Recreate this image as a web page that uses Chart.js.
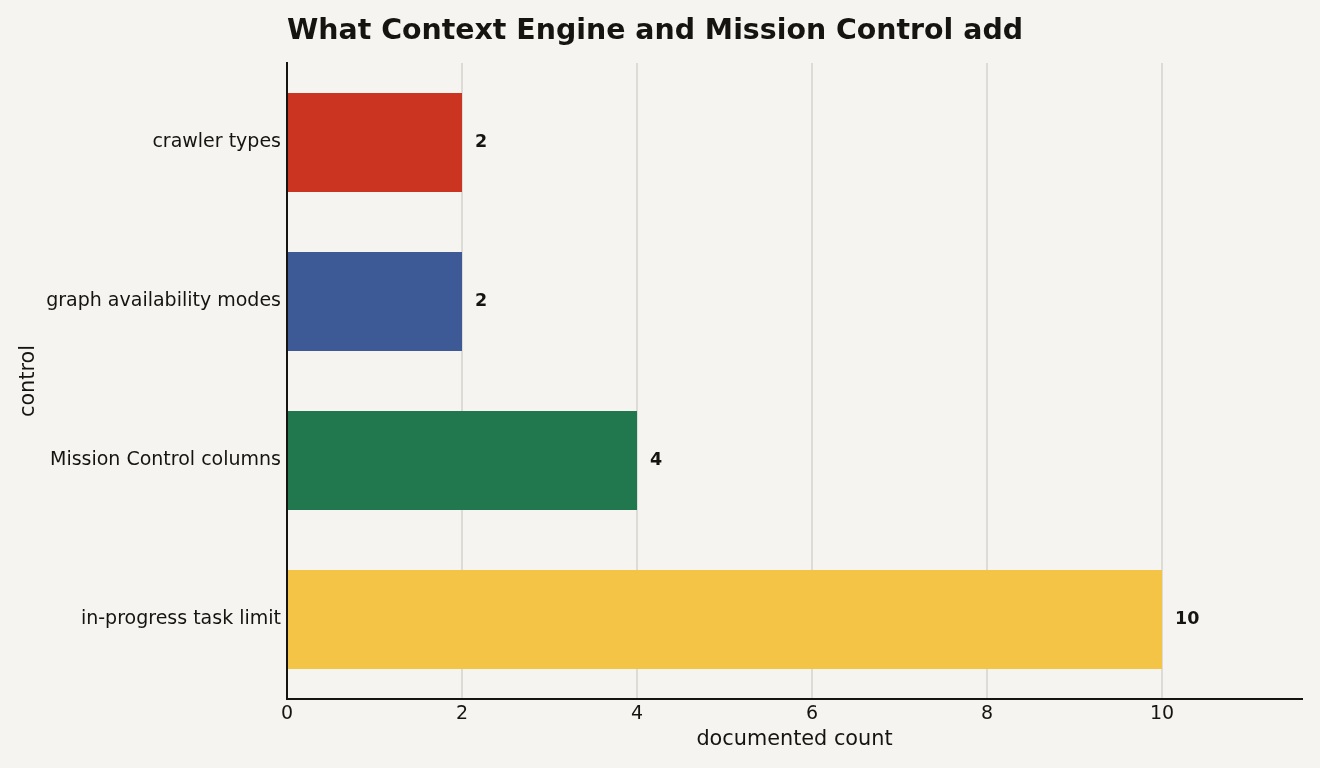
<!DOCTYPE html>
<html>
<head>
<meta charset="utf-8">
<script src="https://cdn.jsdelivr.net/npm/chart.js@4/dist/chart.umd.min.js"></script>
<style>
  html, body { margin: 0; padding: 0; background: #f5f4f0; }
  #wrap { width: 1320px; height: 768px; }
</style>
</head>
<body>
<div id="wrap"><canvas id="chart" width="1320" height="768"></canvas></div>
<script>
// datos del gráfico
const categories = ['crawler types', 'graph availability modes', 'Mission Control columns', 'in-progress task limit'];
const counts = [2, 2, 4, 10];
const barColors = ['#cb3421', '#3d5a96', '#22784e', '#f3c445'];
const xTicks = [0, 2, 4, 6, 8, 10];

const TEXT = '#161410';
const FONT = "'DejaVu Sans', sans-serif";

// título alineado con el borde izquierdo del área del gráfico
const titlePlugin = {
  id: 'leftTitle',
  afterDraw(chart) {
    const { ctx, chartArea } = chart;
    ctx.save();
    ctx.font = "bold 28.4px " + FONT;
    ctx.fillStyle = TEXT;
    ctx.textBaseline = 'middle';
    ctx.textAlign = 'left';
    ctx.fillText('What Context Engine and Mission Control add', chartArea.left, 32);
    ctx.restore();
  }
};

// etiquetas de valor al final de cada barra
const valueLabels = {
  id: 'valueLabels',
  afterDatasetsDraw(chart) {
    const { ctx } = chart;
    const meta = chart.getDatasetMeta(0);
    ctx.save();
    ctx.font = "bold 17.5px " + FONT;
    ctx.fillStyle = TEXT;
    ctx.textBaseline = 'middle';
    ctx.textAlign = 'left';
    meta.data.forEach((bar, i) => {
      ctx.fillText(String(counts[i]), bar.x + 13, bar.y);
    });
    ctx.restore();
  }
};

const bgPlugin = {
  id: 'bg',
  beforeDraw(chart) {
    const { ctx, width, height } = chart;
    ctx.save();
    ctx.fillStyle = '#f5f4f0';
    ctx.fillRect(0, 0, width, height);
    ctx.restore();
  }
};

new Chart(document.getElementById('chart'), {
  type: 'bar',
  data: {
    labels: categories,
    datasets: [{
      data: counts,
      backgroundColor: barColors,
      borderWidth: 0,
      categoryPercentage: 0.8,
      barPercentage: 0.78
    }]
  },
  options: {
    indexAxis: 'y',
    responsive: false,
    animation: false,
    layout: { padding: { top: 63, right: 18, left: 0, bottom: 0 } },
    plugins: {
      legend: { display: false },
      tooltip: { enabled: false },
      title: { display: false }
    },
    scales: {
      x: {
        min: 0,
        max: 11.6,
        afterBuildTicks(scale) {
          scale.ticks = xTicks.map(v => ({ value: v }));
        },
        afterFit(scale) { scale.height = 69; },
        grid: { color: '#dddbd5', lineWidth: 2, drawTicks: false },
        border: { color: TEXT, width: 2 },
        ticks: { color: TEXT, font: { family: FONT, size: 19 }, padding: 4, includeBounds: false },
        title: {
          display: true,
          text: 'documented count',
          color: TEXT,
          font: { family: FONT, size: 20.8 },
          padding: { top: 0, bottom: 16 }
        }
      },
      y: {
        afterFit(scale) { scale.width = 287; },
        grid: { display: false, drawTicks: false },
        border: { color: TEXT, width: 2 },
        ticks: { color: TEXT, font: { family: FONT, size: 19 }, padding: 6 },
        title: {
          display: true,
          text: 'control',
          color: TEXT,
          font: { family: FONT, size: 20.8 },
          padding: { top: 16, bottom: 0 }
        }
      }
    }
  },
  plugins: [bgPlugin, titlePlugin, valueLabels]
});
</script>
</body>
</html>
